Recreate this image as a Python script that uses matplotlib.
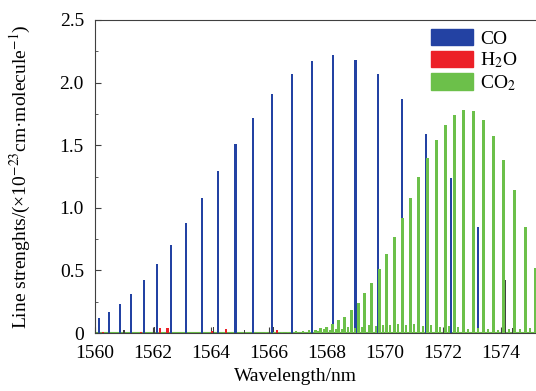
import matplotlib
matplotlib.use('Agg')
import matplotlib.pyplot as plt
from matplotlib.patches import Patch
from matplotlib.ticker import MultipleLocator, FuncFormatter

plt.rcParams['font.family'] = ['Liberation Serif', 'DejaVu Serif']
plt.rcParams['mathtext.fontset'] = 'stix'
plt.rcParams['font.size'] = 14

# line positions (nm) and strengths (x1e-23 cm/molecule)
co_wl = [1560.14, 1560.48, 1560.86, 1561.25, 1561.69, 1562.15, 1562.63, 1563.14,
         1563.68, 1564.25, 1564.85, 1565.46, 1566.11, 1566.80, 1567.49, 1568.22,
         1568.99, 1569.77, 1570.59, 1571.41, 1572.29, 1573.20]
co_s = [0.12, 0.165, 0.23, 0.31, 0.42, 0.55, 0.70, 0.88, 1.08, 1.29, 1.51, 1.72,
        1.91, 2.07, 2.17, 2.22, 2.18, 2.07, 1.87, 1.59, 1.24, 0.85]

co2_wl = [1567.59, 1567.78, 1567.99, 1568.20, 1568.40, 1568.61, 1568.84, 1569.08,
          1569.31, 1569.55, 1569.80, 1570.06, 1570.33, 1570.61, 1570.89, 1571.17,
          1571.46, 1571.77, 1572.08, 1572.39, 1572.72, 1573.06, 1573.40, 1573.75,
          1574.10, 1574.47, 1574.85, 1575.19]
co2_s = [0.025, 0.04, 0.05, 0.07, 0.10, 0.13, 0.18, 0.24, 0.32, 0.40, 0.51, 0.63,
         0.77, 0.92, 1.08, 1.25, 1.40, 1.54, 1.66, 1.74, 1.78, 1.77, 1.70, 1.57,
         1.38, 1.14, 0.85, 0.52]

# weak CO2 lines (hot band) along the bottom
co2w_wl = [1565.90, 1566.20, 1566.45, 1566.66, 1566.93, 1567.17, 1567.38, 1567.69,
           1567.90, 1568.10, 1568.31, 1568.52, 1568.72, 1568.97, 1569.21, 1569.45,
           1569.69, 1569.93, 1570.17, 1570.45, 1570.72, 1571.00, 1571.31, 1571.59,
           1571.90, 1572.21, 1572.52, 1572.86, 1573.21, 1573.55, 1573.90, 1574.28,
           1574.66, 1575.00]
co2w_s = [0.006, 0.008, 0.01, 0.01, 0.012, 0.015, 0.02, 0.015, 0.03, 0.025, 0.035,
          0.03, 0.045, 0.04, 0.05, 0.06, 0.055, 0.065, 0.06, 0.07, 0.065, 0.07,
          0.055, 0.06, 0.05, 0.055, 0.045, 0.03, 0.04, 0.03, 0.025, 0.03, 0.035, 0.04]

h2o_wl = [1560.28, 1560.86, 1561.59, 1562.24, 1562.50, 1564.02, 1564.52, 1566.27]
h2o_s = [0.01, 0.01, 0.008, 0.04, 0.04, 0.012, 0.035, 0.02]

other_wl = [1561.00, 1562.05, 1564.10, 1565.14, 1566.14, 1574.16, 1574.40]
other_s = [0.025, 0.05, 0.05, 0.02, 0.05, 0.42, 0.04]

c_co = '#2342a3'
c_h2o = '#ec2027'
c_co2 = '#6cc04a'

fig = plt.figure(figsize=(5.36, 3.91), dpi=100)
ax = fig.add_axes([95 / 536, 58 / 391, 441 / 536, 313 / 391])

ax.axhline(0, color=c_co2, lw=1.5, zorder=1)
ax.bar(other_wl, other_s, width=0.035, color='#404040', zorder=2)
ax.bar(h2o_wl, h2o_s, width=0.07, color=c_h2o, zorder=2)
ax.bar(co_wl, co_s, width=0.08, color=c_co, zorder=3)
ax.bar(co2w_wl, co2w_s, width=0.09, color=c_co2, zorder=4)
ax.bar(co2_wl, co2_s, width=0.1, color=c_co2, zorder=4)

ax.set_xlim(1560, 1575.21)
ax.set_ylim(0, 2.5)
ax.xaxis.set_major_locator(MultipleLocator(2))
ax.yaxis.set_major_locator(MultipleLocator(0.5))
ax.yaxis.set_minor_locator(MultipleLocator(0.25))
ax.yaxis.set_major_formatter(FuncFormatter(lambda v, p: '0' if v == 0 else f'{v:.1f}'))
ax.tick_params(which='both', direction='in', color='#404040')
ax.tick_params(which='major', length=4)
ax.tick_params(which='minor', length=2.5)
ax.tick_params(axis='x', pad=9)
ax.tick_params(axis='y', pad=8)
for s in ax.spines.values():
    s.set_color('#404040')
ax.spines['right'].set_visible(False)

ax.set_xlabel('Wavelength/nm')
ax.xaxis.set_label_coords(0.4535, -0.112)
ax.set_ylabel('Line strenghts/(×10$^{-23}$cm·molecule$^{-1}$)', fontsize=14)
ax.yaxis.set_label_coords(-0.14, 0.5)

handles = [Patch(color=c_co), Patch(color=c_h2o), Patch(color=c_co2)]
ax.legend(handles, ['CO', 'H$_2$O', 'CO$_2$'], loc='upper right', frameon=False,
          handlelength=2.2, handleheight=0.95, handletextpad=0.35, labelspacing=0.15,
          borderaxespad=0.3, bbox_to_anchor=(0.989, 1.016))

fig.savefig('out.png', dpi=100)
